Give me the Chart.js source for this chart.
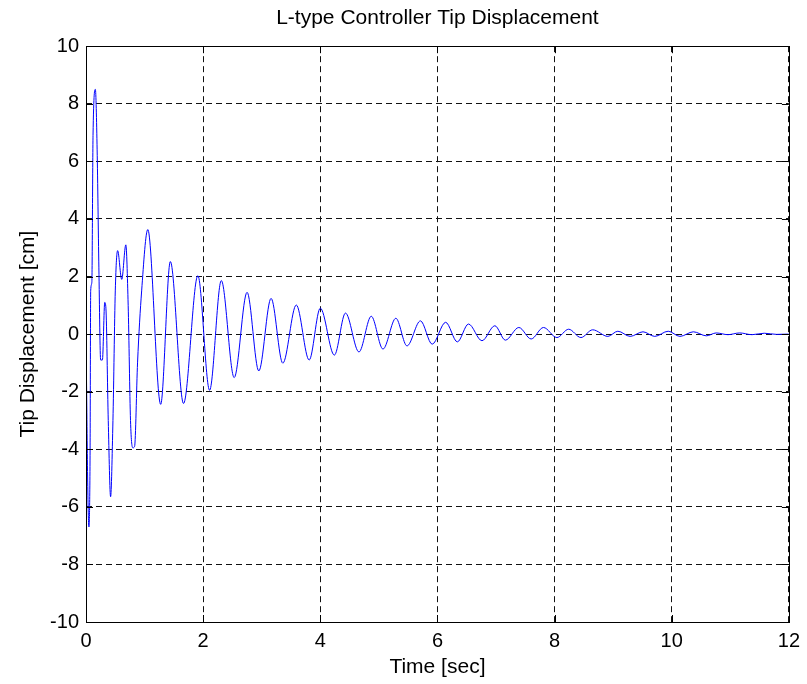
<!DOCTYPE html>
<html>
<head>
<meta charset="utf-8">
<script src="https://cdn.jsdelivr.net/npm/chart.js@4/dist/chart.umd.min.js"></script>
<style>
  html, body { margin: 0; padding: 0; background: #fff; }
  #wrap { width: 807px; height: 684px; }
</style>
</head>
<body>
<div id="wrap"><canvas id="tipChart" width="807" height="684"></canvas></div>
<script>
// values (peaks, troughs and a few shoulders)
const timeSec = [0, 0.01, 0.03, 0.05, 0.07, 0.08, 0.10, 0.12, 0.16, 0.19, 0.22, 0.25, 0.28, 0.32, 0.34,
  0.38, 0.42, 0.46, 0.50, 0.54, 0.61, 0.68, 0.72, 0.76, 0.80, 0.83, 0.88, 0.95, 1.055, 1.275,
  1.44, 1.665, 1.91, 2.11, 2.31, 2.53, 2.75, 2.95, 3.16, 3.36, 3.59, 3.81, 4.0, 4.24, 4.43,
  4.66, 4.87, 5.07, 5.29, 5.48, 5.71, 5.91, 6.14, 6.34, 6.53, 6.76, 6.98, 7.16, 7.39, 7.6,
  7.81, 8.04, 8.24, 8.45, 8.65, 8.91, 9.08, 9.29, 9.51, 9.71, 9.94, 10.14, 10.37, 10.59, 10.76,
  10.96, 11.16, 11.37, 11.58, 11.79, 12.0];
const tipDisp = [0, -1.8, -5.3, -6.7, -4.0, 1.5, 1.8, 6.9, 8.5, 6.4, 2.3, -0.9, -0.9, 1.1, 0.9,
  -3.0, -5.65, -3.0, 1.5, 2.9, 1.9, 3.1, 1.0, -3.0, -3.95, -3.9, -1.0, 1.5, 3.63, -2.44,
  2.52, -2.41, 2.03, -1.95, 1.86, -1.51, 1.45, -1.28, 1.24, -1.01, 1.01, -0.90, 0.90, -0.73, 0.73,
  -0.62, 0.62, -0.52, 0.55, -0.41, 0.46, -0.35, 0.41, -0.27, 0.35, -0.23, 0.29, -0.21, 0.23, -0.17,
  0.23, -0.12, 0.17, -0.12, 0.15, -0.08, 0.10, -0.08, 0.08, -0.08, 0.10, -0.08, 0.08, -0.06, 0.04,
  -0.02, 0.04, -0.02, 0.03, -0.01, 0.0];
const xTicks = [0, 2, 4, 6, 8, 10, 12];
const yTicks = [-10, -8, -6, -4, -2, 0, 2, 4, 6, 8, 10];

const FONT = 'Liberation Sans, Arial, Helvetica, sans-serif';

// solid box + short inward ticks, like a matlab axes
const boxPlugin = {
  id: 'box',
  afterDraw(chart) {
    const { ctx, chartArea: a, scales } = chart;
    const len = 7;
    ctx.save();
    ctx.setLineDash([]);
    ctx.strokeStyle = '#000';
    ctx.lineWidth = 1;
    ctx.beginPath();
    xTicks.forEach(v => {
      const x = Math.round(scales.x.getPixelForValue(v)) + 0.5;
      ctx.moveTo(x, a.bottom); ctx.lineTo(x, a.bottom - len);
      ctx.moveTo(x, a.top); ctx.lineTo(x, a.top + len);
    });
    yTicks.forEach(v => {
      const y = Math.round(scales.y.getPixelForValue(v)) + 0.5;
      ctx.moveTo(a.left, y); ctx.lineTo(a.left + len, y);
      ctx.moveTo(a.right, y); ctx.lineTo(a.right - len, y);
    });
    ctx.stroke();
    ctx.strokeRect(Math.round(a.left) + 0.5, Math.round(a.top) + 0.5,
      Math.round(a.right - a.left), Math.round(a.bottom - a.top));
    ctx.restore();
  }
};

new Chart(document.getElementById('tipChart'), {
  type: 'line',
  data: {
    datasets: [{
      data: timeSec.map((t, i) => ({ x: t, y: tipDisp[i] })),
      borderColor: '#0000ff',
      borderWidth: 1,
      pointRadius: 0,
      fill: false,
      cubicInterpolationMode: 'monotone'
    }]
  },
  options: {
    responsive: false,
    animation: false,
    layout: { padding: { left: 0, right: 17, top: 0, bottom: 0 } },
    plugins: {
      legend: { display: false },
      tooltip: { enabled: false },
      title: {
        display: true,
        fullSize: false,
        text: 'L-type Controller Tip Displacement',
        color: '#000',
        font: { family: FONT, size: 21, weight: 'normal' },
        padding: { top: 6, bottom: 15 }
      }
    },
    scales: {
      x: {
        type: 'linear',
        min: 0, max: 12,
        afterBuildTicks: s => { s.ticks = xTicks.map(v => ({ value: v })); },
        afterFit: s => { s.height = 62; },
        grid: { color: '#111', lineWidth: 1, drawTicks: false },
        border: { display: false, dash: [6, 4] },
        ticks: { color: '#000', padding: 7, font: { family: FONT, size: 20 } },
        title: { display: true, text: 'Time [sec]', color: '#000',
          font: { family: FONT, size: 21 }, padding: { top: 4, bottom: 4 } }
      },
      y: {
        min: -10, max: 10,
        afterBuildTicks: s => { s.ticks = yTicks.map(v => ({ value: v })); },
        afterFit: s => { s.width = 86; },
        grid: { color: '#111', lineWidth: 1, drawTicks: false },
        border: { display: false, dash: [6, 4] },
        ticks: { color: '#000', padding: 7, font: { family: FONT, size: 20 } },
        title: { display: true, text: 'Tip Displacement [cm]', color: '#000',
          font: { family: FONT, size: 21 }, padding: { top: 16, bottom: 16 } }
      }
    }
  },
  plugins: [boxPlugin]
});
</script>
</body>
</html>
